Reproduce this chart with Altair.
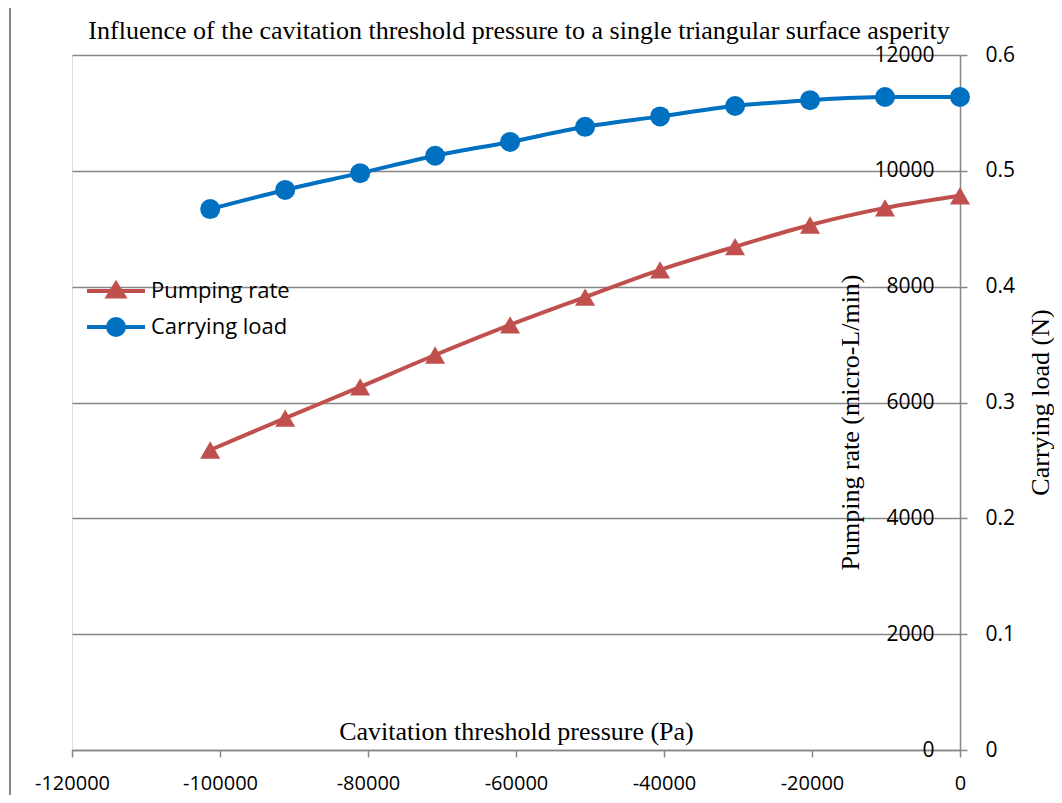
import altair as alt
import pandas as pd

# ---- data ----
pressure = [-101325, -91192.5, -81060, -70927.5, -60795, -50662.5,
            -40530, -30397.5, -20265, -10132.5, 0]
pumping_rate = [5180, 5730, 6270, 6820, 7340, 7820, 8290, 8690, 9065, 9360, 9570]
carrying_load = [0.467, 0.4835, 0.498, 0.513, 0.525, 0.538, 0.547, 0.556,
                 0.561, 0.5637, 0.5637]
series_names = ["Pumping rate", "Carrying load"]
series_colors = ["#C0504D", "#0070C0"]
x_ticks = [-120000, -100000, -80000, -60000, -40000, -20000, 0]
left_ticks = [0, 2000, 4000, 6000, 8000, 10000, 12000]
right_ticks = [0, 0.1, 0.2, 0.3, 0.4, 0.5, 0.6]

df = pd.DataFrame({"pressure": pressure, "pump": pumping_rate, "load": carrying_load})
leg_df = pd.DataFrame({"series": series_names})
frame_df = pd.DataFrame({"k": [0]})

W, H = 888, 695
GRID = "#868686"
SANS = "Open Sans"
SERIF = "Liberation Serif"
RED, BLUE = series_colors

x_enc = alt.X(
    "pressure:Q",
    scale=alt.Scale(domain=[-120000, 0], nice=False, zero=False),
    axis=alt.Axis(
        values=x_ticks, grid=False,
        labelExpr="'' + datum.value",
        labelFont=SANS, labelFontSize=20, labelColor="black",
        labelBaseline="middle", labelPadding=26, labelFlush=False, labelOverlap=False,
        tickSize=7, tickColor=GRID, tickWidth=1.5,
        domainColor=GRID, domainWidth=1.5,
        title="Cavitation threshold pressure (Pa)", titleFont=SERIF, titleFontSize=26,
        titleFontWeight="normal", titleColor="black", titleBaseline="middle", titleY=-19,
    ),
)

y_pump = alt.Y(
    "pump:Q",
    scale=alt.Scale(domain=[0, 12000], nice=False),
    axis=alt.Axis(
        orient="right", values=left_ticks,
        grid=True, gridColor=GRID, gridWidth=1.5,
        domainColor=GRID, domainWidth=1.5,
        tickColor=GRID, tickSize=7, tickWidth=1.5,
        labelExpr="'' + datum.value",
        labelAlign="right", labelBaseline="middle", labelPadding=-33,
        labelFont=SANS, labelFontSize=21, labelColor="black",
        title="Pumping rate (micro-L/min)", titleFont=SERIF, titleFontSize=26,
        titleFontWeight="normal", titleColor="black", titleAngle=270,
        titleAlign="center", titleBaseline="middle", titleX=-110, titleY=367,
    ),
)

y_load = alt.Y(
    "load:Q",
    scale=alt.Scale(domain=[0, 0.6], nice=False),
    axis=alt.Axis(
        orient="right", values=right_ticks, grid=False, domain=False, ticks=False,
        tickSize=0,
        labelExpr="'' + datum.value",
        labelAlign="left", labelBaseline="middle", labelPadding=25,
        labelFont=SANS, labelFontSize=21, labelColor="black",
        title="Carrying load (N)", titleFont=SERIF, titleFontSize=26,
        titleFontWeight="normal", titleColor="black", titleAngle=270,
        titleAlign="center", titleBaseline="middle", titleX=80, titleY=347,
    ),
)

base = alt.Chart(df).encode(x=x_enc)

pump_layer = alt.layer(
    base.mark_line(color=RED, strokeWidth=4, interpolate="monotone").encode(y=y_pump),
    base.mark_point(shape="triangle-up", filled=True, color=RED, size=400, opacity=1).encode(y=y_pump),
)
load_layer = alt.layer(
    base.mark_line(color=BLUE, strokeWidth=4, interpolate="monotone").encode(y=y_load),
    base.mark_point(shape="circle", filled=True, color=BLUE, size=400, opacity=1).encode(y=y_load),
)

legend_paths = [
    "M-2.9,0H2.9M0,-0.75L0.8,0.55L-0.8,0.55Z",
    "M-2.9,0H2.9M0.8,0A0.8,0.8,0,1,1,-0.8,0A0.8,0.8,0,1,1,0.8,0Z",
]
leg = alt.Legend(
    title=None, orient="none", legendX=16, legendY=224, padding=0,
    symbolSize=400, symbolStrokeWidth=4, symbolOffset=16, labelOffset=23,
    labelFont=SANS, labelFontSize=22, labelColor="black", rowPadding=6,
)
legend_layer = alt.Chart(leg_df).mark_point(filled=True, strokeWidth=4, opacity=1).encode(
    fill=alt.Fill("series:N", scale=alt.Scale(domain=series_names, range=series_colors), legend=leg),
    stroke=alt.Stroke("series:N", scale=alt.Scale(domain=series_names, range=series_colors), legend=leg),
    shape=alt.Shape("series:N", scale=alt.Scale(domain=series_names, range=legend_paths), legend=leg),
).transform_filter("false")

# outer chart-area border (only its left edge falls inside the page)
frame = alt.Chart(frame_df).mark_rule(stroke=GRID, strokeWidth=2).encode(
    x=alt.value(-62), y=alt.value(-47), y2=alt.value(1200)
)

chart = alt.layer(frame, pump_layer, load_layer, legend_layer).resolve_scale(
    y="independent"
).properties(
    width=W, height=H,
    title=alt.TitleParams(
        "Influence of the cavitation threshold pressure to a single triangular surface asperity",
        font=SERIF, fontSize=26, fontWeight="normal", color="black",
        anchor="middle", frame="group", baseline="alphabetic", offset=-58, dx=3,
    ),
    autosize=alt.AutoSizeParams(type="none"),
    padding={"left": 64, "top": 47, "right": 94, "bottom": 45},
).configure_view(stroke=None).configure(background="white")

chart.save("out.html", embed_options={"renderer": "svg", "actions": False})
